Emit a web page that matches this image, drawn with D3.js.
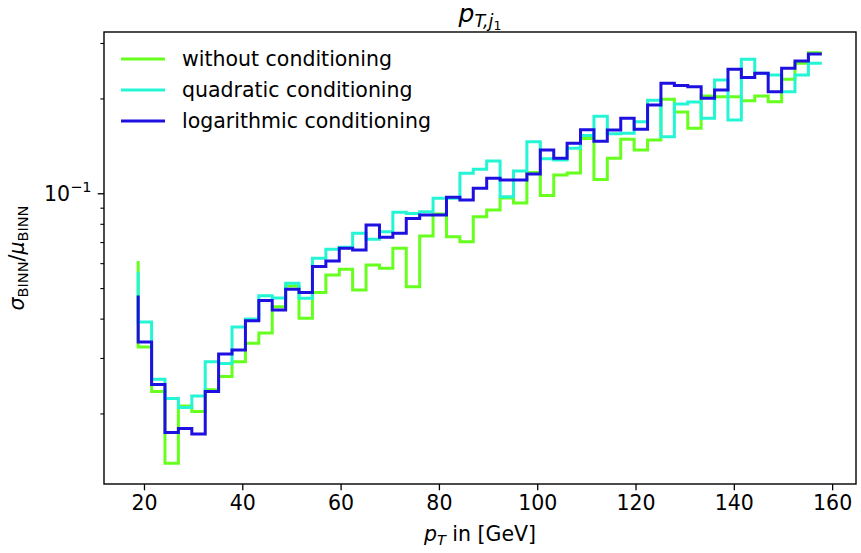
<!DOCTYPE html>
<html>
<head>
<meta charset="utf-8">
<script src="https://cdn.jsdelivr.net/npm/d3@7"></script>
<style>
  body { margin: 0; background: #fff; }
  svg text { font-family: "DejaVu Sans", sans-serif; fill: #000; }
</style>
</head>
<body>
<svg id="chart" width="861" height="553"></svg>
<script>
// bin edges of the p_T histogram (GeV); first value of each series is the start point of the step line
const edges = [18.82, 21.55, 24.27, 27.00, 29.73, 32.46, 35.18, 37.91, 40.64, 43.36,
  46.09, 48.82, 51.54, 54.27, 57.00, 59.73, 62.45, 65.18, 67.91, 70.63,
  73.36, 76.09, 78.81, 81.54, 84.27, 86.99, 89.72, 92.45, 95.18, 97.90,
  100.63, 103.36, 106.08, 108.81, 111.54, 114.26, 116.99, 119.72, 122.45, 125.17,
  127.90, 130.63, 133.35, 136.08, 138.81, 141.53, 144.26, 146.99, 149.72, 152.44,
  155.17, 157.90];

const withoutCond = [0.0610, 0.0325, 0.0235, 0.0139, 0.0211, 0.0203, 0.0238, 0.0262, 0.0292, 0.0334,
  0.0360, 0.0436, 0.0508, 0.0401, 0.0484, 0.0550, 0.0574, 0.0493, 0.0592, 0.0578,
  0.0669, 0.0505, 0.0732, 0.0860, 0.0728, 0.0702, 0.0843, 0.0885, 0.0966, 0.0932,
  0.1164, 0.0984, 0.1143, 0.1160, 0.1493, 0.1106, 0.1292, 0.1484, 0.1373, 0.1477,
  0.1988, 0.1812, 0.1608, 0.2037, 0.2026, 0.2026, 0.1968, 0.2037, 0.1953, 0.2301,
  0.2587, 0.2795];

const quadraticCond = [0.0563, 0.0390, 0.0257, 0.0223, 0.0209, 0.0227, 0.0292, 0.0288, 0.0376, 0.0399,
  0.0473, 0.0465, 0.0518, 0.0464, 0.0622, 0.0664, 0.0674, 0.0746, 0.0715, 0.0755,
  0.0870, 0.0863, 0.0874, 0.0964, 0.0964, 0.1157, 0.1192, 0.1266, 0.0975, 0.1177,
  0.1458, 0.1287, 0.1276, 0.1390, 0.1526, 0.1756, 0.1546, 0.1551, 0.1688, 0.1973,
  0.1512, 0.1921, 0.1949, 0.1730, 0.2289, 0.1709, 0.2663, 0.2404, 0.2375, 0.2101,
  0.2375, 0.2587];

const logCond = [0.0474, 0.0337, 0.0247, 0.0174, 0.0179, 0.0172, 0.0235, 0.0309, 0.0318, 0.0394,
  0.0457, 0.0426, 0.0496, 0.0484, 0.0585, 0.0610, 0.0669, 0.0661, 0.0793, 0.0725,
  0.0746, 0.0831, 0.0853, 0.0853, 0.0971, 0.0952, 0.1037, 0.1116, 0.1102, 0.1102,
  0.1152, 0.1373, 0.1292, 0.1441, 0.1592, 0.1464, 0.1589, 0.1730, 0.1597, 0.1907,
  0.2235, 0.2199, 0.2180, 0.2003, 0.2128, 0.2475, 0.2332, 0.2404, 0.2101, 0.2493,
  0.2630, 0.2769];

const seriesNames = ["without conditioning", "quadratic conditioning", "logarithmic conditioning"];
const seriesColors = ["#66ff1e", "#24f5d4", "#1e10e0"];
const xTicks = [20, 40, 60, 80, 100, 120, 140, 160];
const yMajorTicks = [0.1];
const yMinorTicks = [0.02, 0.03, 0.04, 0.05, 0.06, 0.07, 0.08, 0.09, 0.2, 0.3];

const svg = d3.select("#chart");
const margin = {top: 32, right: 5, bottom: 69, left: 104};
const W = 861 - margin.left - margin.right;
const H = 553 - margin.top - margin.bottom;
const fs = 20.5;

// matplotlib style 5% margin on x
const span = edges[edges.length - 1] - edges[0];
const x = d3.scaleLinear()
  .domain([edges[0] - 0.05 * span, edges[edges.length - 1] + 0.05 * span])
  .range([0, W]);
const y = d3.scaleLog().domain([0.01194, 0.3251]).range([H, 0]);

const g = svg.append("g").attr("transform", `translate(${margin.left},${margin.top})`);

// step lines ("pre" steps like plt.step)
const line = d3.line()
  .x((d, i) => x(edges[i]))
  .y(d => y(d))
  .curve(d3.curveStepBefore);

const allSeries = [withoutCond, quadraticCond, logCond];
allSeries.forEach((vals, k) => {
  g.append("path")
    .datum(vals)
    .attr("fill", "none")
    .attr("stroke", seriesColors[k])
    .attr("stroke-width", 3)
    .attr("d", line);
});

// x axis
const xAxis = g.append("g")
  .attr("transform", `translate(0,${H})`)
  .call(d3.axisBottom(x).tickValues(xTicks).tickSize(6.3).tickPadding(5).tickFormat(d3.format("d")));
xAxis.select(".domain").remove();
xAxis.selectAll("line").attr("stroke", "#000").attr("stroke-width", 1.3);
xAxis.selectAll("text").attr("font-size", fs).attr("font-family", "DejaVu Sans");

// y axis: major and minor ticks
const yMinor = g.append("g").call(d3.axisLeft(y).tickValues(yMinorTicks).tickSize(3.6).tickFormat(""));
yMinor.select(".domain").remove();
yMinor.selectAll("line").attr("stroke", "#000").attr("stroke-width", 1.1);

const yMajor = g.append("g").call(d3.axisLeft(y).tickValues(yMajorTicks).tickSize(6.3).tickFormat(""));
yMajor.select(".domain").remove();
yMajor.selectAll("line").attr("stroke", "#000").attr("stroke-width", 1.3);

yMajorTicks.forEach(v => {
  const t = g.append("text")
    .attr("x", -12.5)
    .attr("y", y(v) + 7.5)
    .attr("text-anchor", "end")
    .attr("font-size", fs);
  t.append("tspan").text("10");
  t.append("tspan").attr("dy", -9).attr("font-size", 14.5).text("\u22121");
});

// frame
g.append("rect")
  .attr("width", W).attr("height", H)
  .attr("fill", "none").attr("stroke", "#000").attr("stroke-width", 1.4);

// title
const title = svg.append("text")
  .attr("x", margin.left + W / 2)
  .attr("y", 22)
  .attr("text-anchor", "middle")
  .attr("font-size", 25);
title.append("tspan").attr("font-style", "italic").text("p");
title.append("tspan").attr("font-style", "italic").attr("font-size", 17.5).attr("dy", 4.5).text("T,j");
title.append("tspan").attr("font-size", 12.5).attr("dy", 3).text("1");

// x label
const xl = svg.append("text")
  .attr("x", margin.left + W / 2)
  .attr("y", 541)
  .attr("text-anchor", "middle")
  .attr("font-size", fs);
xl.append("tspan").attr("font-style", "italic").text("p");
xl.append("tspan").attr("font-style", "italic").attr("font-size", 14.5).attr("dy", 4).text("T");
xl.append("tspan").attr("dy", -4).text(" in [GeV]");

// y label
const yl = svg.append("text")
  .attr("transform", `translate(24,${margin.top + H / 2}) rotate(-90)`)
  .attr("text-anchor", "middle")
  .attr("font-size", fs);
yl.append("tspan").attr("font-style", "italic").text("\u03c3");
yl.append("tspan").attr("font-size", 14.5).attr("dy", 4).text("BINN");
yl.append("tspan").attr("dy", -4).text("/");
yl.append("tspan").attr("font-style", "italic").text("\u03bc");
yl.append("tspan").attr("font-size", 14.5).attr("dy", 4).text("BINN");

// legend
const legend = svg.append("g").attr("transform", "translate(121,59)");
seriesNames.forEach((name, k) => {
  const row = legend.append("g").attr("transform", `translate(0,${k * 31})`);
  row.append("line")
    .attr("x1", 0).attr("x2", 44)
    .attr("stroke", seriesColors[k]).attr("stroke-width", 3);
  row.append("text")
    .attr("x", 61).attr("y", 7)
    .attr("font-size", fs)
    .text(name);
});
</script>
</body>
</html>
